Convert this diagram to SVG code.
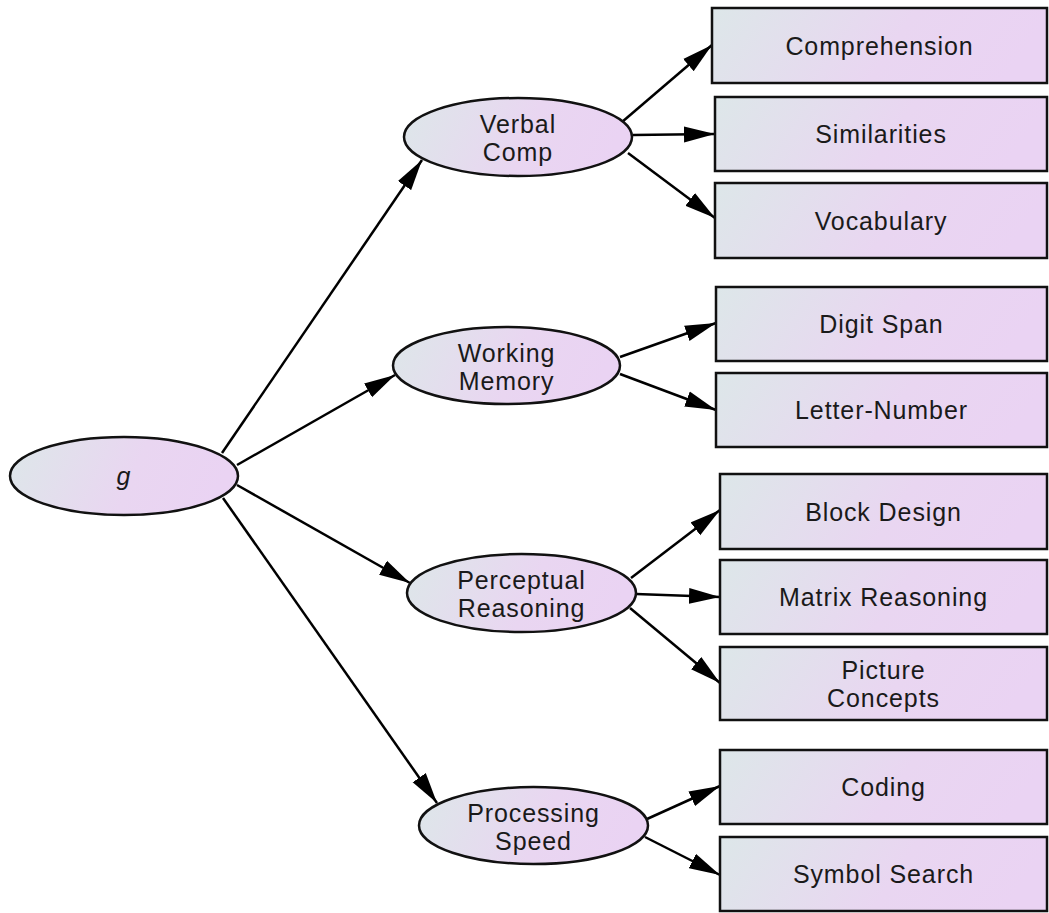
<svg xmlns="http://www.w3.org/2000/svg" width="1049" height="913" viewBox="0 0 1049 913">
<defs>
<linearGradient id="fill" x1="0" y1="0" x2="1" y2="0.15">
<stop offset="0" stop-color="#dde7e9"/>
<stop offset="0.6" stop-color="#e9d6f1"/>
<stop offset="1" stop-color="#ead3f3"/>
</linearGradient>
<marker id="arrow" markerUnits="userSpaceOnUse" markerWidth="31" markerHeight="17" refX="31" refY="8.5" orient="auto">
<path d="M0,0.5 L31,8.5 L0,16.5 Z" fill="#000"/>
</marker>
</defs>
<style>
.node ellipse, .node rect { fill: url(#fill); stroke: #111; stroke-width: 2.5; }
.node text { font-family: "Liberation Sans", Arial, sans-serif; font-size: 25px; letter-spacing: 0.9px; fill: #1a1a1a; text-anchor: middle; }
#edges line { stroke: #000; stroke-width: 2.5; marker-end: url(#arrow); }
</style>
<rect width="1049" height="913" fill="#fff"/>
<g id="edges">
<line x1="222" y1="453" x2="422" y2="160"/>
<line x1="237" y1="465" x2="395" y2="375"/>
<line x1="237" y1="485" x2="410" y2="583"/>
<line x1="223" y1="498" x2="437" y2="803"/>
<line x1="622" y1="122" x2="712" y2="45"/>
<line x1="633" y1="135" x2="715" y2="134"/>
<line x1="628" y1="153" x2="715" y2="218"/>
<line x1="620" y1="357" x2="716" y2="323"/>
<line x1="620" y1="374" x2="716" y2="410"/>
<line x1="631" y1="578" x2="720" y2="510"/>
<line x1="636" y1="594" x2="720" y2="597"/>
<line x1="630" y1="608" x2="720" y2="683"/>
<line x1="647" y1="819" x2="720" y2="786"/>
<line x1="645" y1="837" x2="720" y2="875"/>
</g>
<g id="g" class="node"><ellipse cx="124" cy="476" rx="114" ry="39"/><text x="124" y="485" font-style="italic">g</text></g>
<g id="verbal" class="node"><ellipse cx="518" cy="137" rx="114" ry="39"/><text x="518" y="133">Verbal</text><text x="518" y="161">Comp</text></g>
<g id="working" class="node"><ellipse cx="506.5" cy="365.5" rx="113.5" ry="38.5"/><text x="506.5" y="361.5">Working</text><text x="506.5" y="389.5">Memory</text></g>
<g id="perceptual" class="node"><ellipse cx="521.5" cy="593" rx="114.5" ry="39"/><text x="521.5" y="589">Perceptual</text><text x="521.5" y="617">Reasoning</text></g>
<g id="processing" class="node"><ellipse cx="533.5" cy="825.5" rx="114.5" ry="38.5"/><text x="533.5" y="821.5">Processing</text><text x="533.5" y="849.5">Speed</text></g>
<g id="comprehension" class="node"><rect x="712" y="8" width="335" height="75"/><text x="879.5" y="54.5">Comprehension</text></g>
<g id="similarities" class="node"><rect x="715" y="97" width="332" height="74"/><text x="881" y="143">Similarities</text></g>
<g id="vocabulary" class="node"><rect x="715" y="183" width="332" height="75"/><text x="881" y="229.5">Vocabulary</text></g>
<g id="digitspan" class="node"><rect x="716" y="287" width="331" height="74"/><text x="881.5" y="333">Digit Span</text></g>
<g id="letternumber" class="node"><rect x="716" y="373" width="331" height="74"/><text x="881.5" y="419">Letter-Number</text></g>
<g id="blockdesign" class="node"><rect x="720" y="474" width="327" height="75"/><text x="883.5" y="520.5">Block Design</text></g>
<g id="matrix" class="node"><rect x="720" y="560" width="327" height="74"/><text x="883.5" y="606">Matrix Reasoning</text></g>
<g id="picture" class="node"><rect x="720" y="647" width="327" height="73"/><text x="883.5" y="679">Picture</text><text x="883.5" y="707">Concepts</text></g>
<g id="coding" class="node"><rect x="720" y="750" width="327" height="74"/><text x="883.5" y="796">Coding</text></g>
<g id="symbolsearch" class="node"><rect x="720" y="837" width="327" height="74"/><text x="883.5" y="883">Symbol Search</text></g>
</svg>
